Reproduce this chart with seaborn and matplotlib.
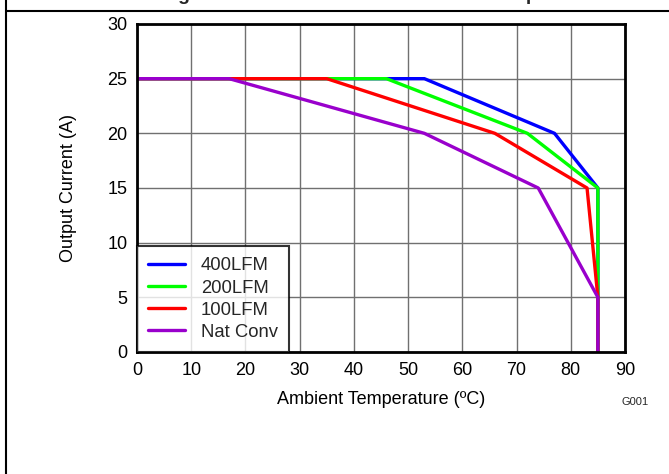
import matplotlib
matplotlib.use("Agg")
import matplotlib.pyplot as plt
from matplotlib.lines import Line2D
import seaborn as sns
import pandas as pd

# Data
temp_400 = [0, 53, 77, 85, 85]
curr_400 = [25, 25, 20, 15, 0]
temp_200 = [0, 46, 72, 85, 85, 85]
curr_200 = [25, 25, 20, 15, 5, 0]
temp_100 = [0, 35, 66, 83, 85, 85]
curr_100 = [25, 25, 20, 15, 5, 0]
temp_nat = [0, 17, 53, 74, 85, 85]
curr_nat = [25, 25, 20, 15, 5, 0]
series_names = ["400LFM", "200LFM", "100LFM", "Nat Conv"]
series_colors = ["#0000FF", "#00FF00", "#FF0000", "#9900CC"]
x_ticks = [0, 10, 20, 30, 40, 50, 60, 70, 80, 90]
y_ticks = [0, 5, 10, 15, 20, 25, 30]

frames = []
for name, xs, ys in zip(series_names,
                        [temp_400, temp_200, temp_100, temp_nat],
                        [curr_400, curr_200, curr_100, curr_nat]):
    frames.append(pd.DataFrame({"temp": xs, "curr": ys, "series": name,
                                "order": range(len(xs))}))
df = pd.concat(frames, ignore_index=True)

sns.set_theme(style="white")
plt.rcParams["font.family"] = ["Liberation Sans", "DejaVu Sans"]

fig = plt.figure(figsize=(6.69, 4.74), dpi=100)
ax = fig.add_axes([137/669, 1-352/474, (625-137)/669, (352-24)/474])

sns.lineplot(data=df, x="temp", y="curr", hue="series", sort=False,
             estimator=None, units="series", palette=dict(zip(series_names, series_colors)),
             hue_order=series_names, linewidth=2.4, ax=ax, legend=False, zorder=3)

ax.set_xlim(0, 90)
ax.set_ylim(0, 30)
ax.set_xticks(x_ticks)
ax.set_yticks(y_ticks)
ax.tick_params(axis="both", labelsize=13, length=0, pad=7, colors="black")
ax.grid(True, color="#707070", linewidth=1.0)
ax.set_axisbelow(True)
for s in ax.spines.values():
    s.set_visible(True)
    s.set_color("black")
    s.set_linewidth(2.0)
    s.set_zorder(5)

ax.set_xlabel("Ambient Temperature (ºC)", fontsize=13, color="black", labelpad=9)
ax.set_ylabel("Output Current (A)", fontsize=13, color="black", labelpad=22)

handles = [Line2D([0], [0], color=c, linewidth=2.4) for c in series_colors]
leg = ax.legend(handles, series_names, loc="lower left", fontsize=13.3,
                frameon=True, fancybox=False, borderaxespad=0.0,
                handlelength=2.0, handletextpad=0.85, labelspacing=0.28,
                borderpad=0.6)
leg.get_frame().set_edgecolor("black")
leg.get_frame().set_linewidth(1.5)
leg.set_zorder(6)

fig.text(635/669, 1-402/474, "G001", fontsize=8, ha="center", va="center")

# Clipped title at very top (only its descenders show, as in the reference)
fig.text(357/669, 1.0, "Derating Curve vs Air Flow and Ambient Temperature",
         fontsize=14, fontweight="bold", ha="center", va="baseline")

# Page frame lines
fig.add_artist(Line2D([6.5/669, 6.5/669], [0, 1], transform=fig.transFigure,
                      color="black", linewidth=1.5))
fig.add_artist(Line2D([6.5/669, 1.0], [1-10.5/474, 1-10.5/474], transform=fig.transFigure,
                      color="black", linewidth=1.5))

fig.savefig("out.png", dpi=100)
